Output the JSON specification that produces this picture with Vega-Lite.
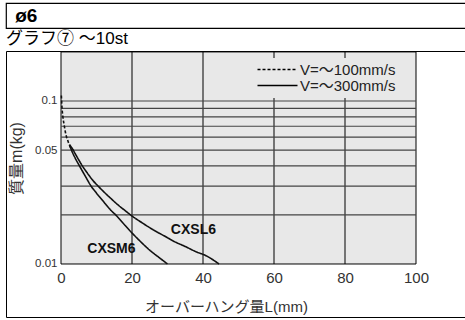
{
  "$schema": "https://vega.github.io/schema/vega-lite/v6.json",
  "padding": {"left": 5, "top": 2, "right": 0, "bottom": 0},
  "background": "white",
  "spacing": 0,
  "config": {
    "font": "Liberation Sans, Noto Sans CJK JP",
    "view": {"stroke": null},
    "title": {"font": "Liberation Sans, Noto Sans CJK JP", "fontSize": 17, "fontWeight": "normal", "color": "#000", "anchor": "start", "offset": 3}
  },
  "datasets": {
    "curves": [
      {"series": "V100", "v": "V=～100mm/s", "L": 0.1, "m": 0.108},
      {"series": "V100", "v": "V=～100mm/s", "L": 0.25, "m": 0.093},
      {"series": "V100", "v": "V=～100mm/s", "L": 0.5, "m": 0.081},
      {"series": "V100", "v": "V=～100mm/s", "L": 0.9, "m": 0.071},
      {"series": "V100", "v": "V=～100mm/s", "L": 1.4, "m": 0.062},
      {"series": "V100", "v": "V=～100mm/s", "L": 2.0, "m": 0.0565},
      {"series": "V100", "v": "V=～100mm/s", "L": 2.5, "m": 0.053},
      {"series": "V100", "v": "V=～100mm/s", "L": 3.0, "m": 0.05},
      {"series": "CXSM6", "v": "V=～300mm/s", "L": 2.4, "m": 0.0537},
      {"series": "CXSM6", "v": "V=～300mm/s", "L": 3.0, "m": 0.0497},
      {"series": "CXSM6", "v": "V=～300mm/s", "L": 4, "m": 0.0446},
      {"series": "CXSM6", "v": "V=～300mm/s", "L": 5.2, "m": 0.04},
      {"series": "CXSM6", "v": "V=～300mm/s", "L": 6.8, "m": 0.0347},
      {"series": "CXSM6", "v": "V=～300mm/s", "L": 8.5, "m": 0.03},
      {"series": "CXSM6", "v": "V=～300mm/s", "L": 10, "m": 0.0272},
      {"series": "CXSM6", "v": "V=～300mm/s", "L": 12, "m": 0.0241},
      {"series": "CXSM6", "v": "V=～300mm/s", "L": 14, "m": 0.0214},
      {"series": "CXSM6", "v": "V=～300mm/s", "L": 15.5, "m": 0.0199},
      {"series": "CXSM6", "v": "V=～300mm/s", "L": 18, "m": 0.0173},
      {"series": "CXSM6", "v": "V=～300mm/s", "L": 20, "m": 0.0155},
      {"series": "CXSM6", "v": "V=～300mm/s", "L": 22, "m": 0.014},
      {"series": "CXSM6", "v": "V=～300mm/s", "L": 25, "m": 0.01215},
      {"series": "CXSM6", "v": "V=～300mm/s", "L": 28, "m": 0.0108},
      {"series": "CXSM6", "v": "V=～300mm/s", "L": 30, "m": 0.01},
      {"series": "CXSL6", "v": "V=～300mm/s", "L": 2.4, "m": 0.054},
      {"series": "CXSL6", "v": "V=～300mm/s", "L": 3.4, "m": 0.0502},
      {"series": "CXSL6", "v": "V=～300mm/s", "L": 4, "m": 0.0475},
      {"series": "CXSL6", "v": "V=～300mm/s", "L": 5, "m": 0.0435},
      {"series": "CXSL6", "v": "V=～300mm/s", "L": 6, "m": 0.04},
      {"series": "CXSL6", "v": "V=～300mm/s", "L": 7, "m": 0.0372},
      {"series": "CXSL6", "v": "V=～300mm/s", "L": 8, "m": 0.0347},
      {"series": "CXSL6", "v": "V=～300mm/s", "L": 9, "m": 0.0325},
      {"series": "CXSL6", "v": "V=～300mm/s", "L": 10.5, "m": 0.03},
      {"series": "CXSL6", "v": "V=～300mm/s", "L": 12, "m": 0.0278},
      {"series": "CXSL6", "v": "V=～300mm/s", "L": 14, "m": 0.0253},
      {"series": "CXSL6", "v": "V=～300mm/s", "L": 16, "m": 0.0231},
      {"series": "CXSL6", "v": "V=～300mm/s", "L": 18, "m": 0.0213},
      {"series": "CXSL6", "v": "V=～300mm/s", "L": 20, "m": 0.0197},
      {"series": "CXSL6", "v": "V=～300mm/s", "L": 23, "m": 0.0178},
      {"series": "CXSL6", "v": "V=～300mm/s", "L": 26, "m": 0.0162},
      {"series": "CXSL6", "v": "V=～300mm/s", "L": 29, "m": 0.0149},
      {"series": "CXSL6", "v": "V=～300mm/s", "L": 32, "m": 0.0137},
      {"series": "CXSL6", "v": "V=～300mm/s", "L": 35, "m": 0.0128},
      {"series": "CXSL6", "v": "V=～300mm/s", "L": 38, "m": 0.0119},
      {"series": "CXSL6", "v": "V=～300mm/s", "L": 41, "m": 0.0112},
      {"series": "CXSL6", "v": "V=～300mm/s", "L": 44.5, "m": 0.01}
    ],
    "labels": [
      {"label": "CXSM6", "L": 14.2, "m": 0.01236},
      {"label": "CXSL6", "L": 37.3, "m": 0.0161}
    ],
    "gx": [{"L": 20}, {"L": 40}, {"L": 60}, {"L": 80}],
    "gy": [{"m": 0.02}, {"m": 0.03}, {"m": 0.04}, {"m": 0.05}, {"m": 0.06}, {"m": 0.07}, {"m": 0.08}, {"m": 0.09}, {"m": 0.1}]
  },
  "vconcat": [
    {
      "width": 461,
      "height": 25,
      "view": {"stroke": "black", "strokeWidth": 1.2},
      "data": {"values": [{"t": "ø6"}]},
      "mark": {"type": "text", "align": "left", "baseline": "middle", "fontSize": 19, "fontWeight": "bold", "color": "black"},
      "encoding": {
        "text": {"field": "t"},
        "x": {"datum": 2, "type": "quantitative", "scale": {"domain": [0, 100]}, "axis": null}
      }
    },
    {
      "width": 461,
      "height": 266,
      "title": {"text": "グラフ⑦ ～10st"},
      "view": {"stroke": "black", "strokeWidth": 1},
      "layer": [
        {
          "data": {"values": [{}]},
          "mark": {"type": "rect", "fill": "#e8e8e8", "stroke": "black", "strokeWidth": 1},
          "encoding": {
            "x": {"datum": 0, "type": "quantitative", "scale": {"domain": [-15.493, 114.366], "nice": false, "zero": false},
              "axis": {"orient": "bottom", "offset": -53, "values": [0, 20, 40, 60, 80, 100], "format": "d", "grid": false, "domain": false, "ticks": false,
                "labelFontSize": 15, "labelColor": "#333", "labelPadding": 6, "labelFlush": false,
                "title": "オーバーハング量L(mm)", "titleFontSize": 15, "titleFontWeight": "normal", "titleColor": "#333", "titleX": 220, "titleY": 42, "titleBaseline": "middle"}},
            "x2": {"datum": 100},
            "y": {"datum": 0.01, "type": "quantitative", "scale": {"type": "log", "domain": [0.004729, 0.2026], "nice": false},
              "axis": {"orient": "left", "offset": -55, "values": [0.01, 0.05, 0.1], "format": "~g", "grid": false, "domain": false, "ticks": false,
                "labelFontSize": 11.5, "labelColor": "#333", "labelPadding": 4,
                "title": "質量m(kg)", "titleFontSize": 16, "titleFontWeight": "normal", "titleColor": "#333", "titleX": -45, "titleY": 107, "titleBaseline": "middle", "titleAngle": -90}},
            "y2": {"datum": 0.2}
          }
        },
        {
          "data": {"name": "gx"},
          "mark": {"type": "rule", "stroke": "#000", "strokeWidth": 1},
          "encoding": {
            "x": {"field": "L", "type": "quantitative"},
            "y": {"datum": 0.01, "type": "quantitative"},
            "y2": {"datum": 0.2}
          }
        },
        {
          "data": {"name": "gy"},
          "mark": {"type": "rule", "stroke": "#444", "strokeWidth": 1.2},
          "encoding": {
            "x": {"datum": 0, "type": "quantitative"},
            "x2": {"datum": 100},
            "y": {"field": "m", "type": "quantitative"}
          }
        },
        {
          "data": {"name": "curves"},
          "mark": {"type": "line", "color": "#111", "strokeWidth": 1.6, "interpolate": "monotone"},
          "encoding": {
            "x": {"field": "L", "type": "quantitative"},
            "y": {"field": "m", "type": "quantitative"},
            "detail": {"field": "series"},
            "strokeDash": {
              "field": "v", "type": "nominal",
              "scale": {"domain": ["V=～100mm/s", "V=～300mm/s"], "range": [[3, 2], [1, 0]]},
              "legend": {"orient": "none", "legendX": 245, "legendY": 55, "title": null, "symbolType": "M-1,0H7", "symbolSize": 100,
                "symbolStrokeWidth": 1.5, "symbolStrokeColor": "black", "labelFontSize": 15, "labelColor": "#222", "labelOffset": 30,
                "fillColor": "#e8e8e8", "padding": 4, "rowPadding": 0}
            }
          }
        },
        {
          "data": {"name": "labels"},
          "mark": {"type": "text", "fontSize": 14, "fontWeight": "bold", "color": "#111", "align": "center", "baseline": "middle"},
          "encoding": {
            "x": {"field": "L", "type": "quantitative"},
            "y": {"field": "m", "type": "quantitative"},
            "text": {"field": "label"}
          }
        }
      ]
    }
  ]
}
